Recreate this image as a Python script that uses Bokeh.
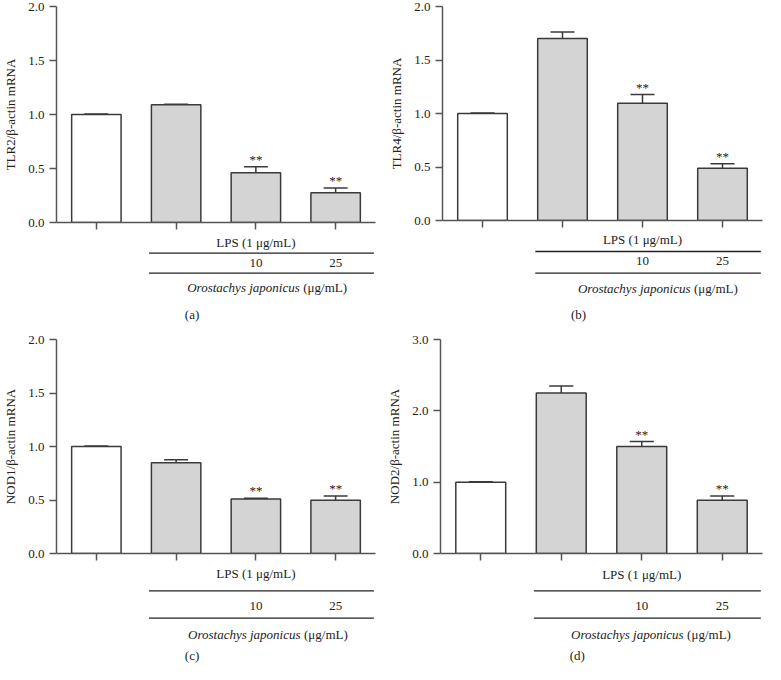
from bokeh.plotting import figure
from bokeh.models import Range1d, FixedTicker, PrintfTickFormatter, ColumnDataSource
from bokeh.layouts import column, row
from bokeh.embed import file_html
from bokeh.resources import INLINE
from bokeh.core.properties import value

# ---------------- data ----------------
groups = [1, 2, 3, 4]
signif = ["", "", "**", "**"]
fills = ["#ffffff", "#d4d4d4", "#d4d4d4", "#d4d4d4"]

tlr2 = [1.00, 1.09, 0.46, 0.275]
tlr2_err = [0.005, 0.006, 0.056, 0.044]
tlr4 = [1.00, 1.70, 1.096, 0.488]
tlr4_err = [0.005, 0.062, 0.081, 0.043]
nod1 = [1.00, 0.849, 0.510, 0.498]
nod1_err = [0.005, 0.028, 0.006, 0.040]
nod2 = [1.00, 2.25, 1.50, 0.747]
nod2_err = [0.005, 0.098, 0.070, 0.060]

yticks_2 = [0.0, 0.5, 1.0, 1.5, 2.0]
yticks_3 = [0.0, 1.0, 2.0, 3.0]

lps_x = [3]
lps_label = ["LPS (1 \u03bcg/mL)"]
conc_x = [3, 4]
conc_labels = ["10", "25"]
oj_italic = ["Orostachys japonicus"]
oj_unit = ["(\u03bcg/mL)"]

FONT = "Liberation Serif"
TXT = "#222222"
AX = "#555555"
EDGE = "#3a3a3a"


def make_panel(tag, ylabel, vals, errs, ymax, yticks, W, H, left, top, right, frame_h, off):
    b = 12
    Hc = top + frame_h + b
    Ha = H - Hc
    xr = Range1d(0.5, 4.5)

    # ---- chart ----
    p = figure(width=W, height=Hc, x_range=xr, y_range=Range1d(0, ymax),
               output_backend="svg", toolbar_location=None, tools="")
    p.min_border_left = left
    p.min_border_top = top
    p.min_border_right = right
    p.min_border_bottom = b
    p.outline_line_color = None
    p.xgrid.grid_line_color = None
    p.ygrid.grid_line_color = None

    for ax in (p.xaxis[0], p.yaxis[0]):
        ax.axis_line_color = AX
        ax.axis_line_width = 1.5
        ax.major_tick_line_color = AX
        ax.major_tick_line_width = 1.5
        ax.major_tick_out = 7
        ax.major_tick_in = 0
        ax.major_label_text_font = FONT
        ax.major_label_text_font_size = "13px"
        ax.major_label_text_color = TXT

    p.xaxis.ticker = FixedTicker(ticks=[], minor_ticks=groups)
    p.xaxis.minor_tick_line_color = AX
    p.xaxis.minor_tick_line_width = 1.5
    p.xaxis.minor_tick_out = 7
    p.xaxis.minor_tick_in = 0
    p.xaxis.major_label_standoff = 0

    p.yaxis.minor_tick_line_color = None
    p.yaxis.ticker = FixedTicker(ticks=yticks)
    p.yaxis.formatter = PrintfTickFormatter(format="%.1f")
    p.yaxis.major_label_standoff = 5
    p.yaxis.axis_label = ylabel
    p.yaxis.axis_label_text_font = FONT
    p.yaxis.axis_label_text_font_size = "13px"
    p.yaxis.axis_label_text_font_style = "normal"
    p.yaxis.axis_label_text_color = TXT
    p.yaxis.axis_label_standoff = 7

    tops = [v + e for v, e in zip(vals, errs)]
    src = ColumnDataSource(dict(x=groups, top=vals, fill=fills, etop=tops,
                                cl=[g - 0.15 for g in groups], cr=[g + 0.15 for g in groups],
                                star=signif))
    p.vbar(x="x", top="top", width=0.62, bottom=0, source=src, fill_color="fill",
           line_color=EDGE, line_width=1.5)
    p.segment(x0="x", y0="top", x1="x", y1="etop", source=src, line_color=EDGE, line_width=1.5)
    p.segment(x0="cl", y0="etop", x1="cr", y1="etop", source=src, line_color=EDGE, line_width=1.5)
    p.text(x="x", y="etop", text="star", source=src, text_align="center", text_baseline="bottom",
           text_font=value(FONT), text_font_size="13px", text_color=TXT)

    # ---- treatment annotation strip (same x scale) ----
    a = figure(width=W, height=Ha, x_range=xr, y_range=Range1d(-(b + Ha), -b),
               output_backend="svg", toolbar_location=None, tools="",
               x_axis_type=None, y_axis_type=None)
    a.min_border_left = left
    a.min_border_right = right
    a.min_border_top = 0
    a.min_border_bottom = 0
    a.outline_line_color = None
    a.grid.visible = False

    def txt(xs, dy, texts, align="center", style="normal", xo=0):
        a.text(x=xs, y=[-dy] * len(xs), text=texts, text_align=align, text_baseline="middle",
               text_font=value(FONT), text_font_size="13px", text_font_style=style,
               text_color=TXT, x_offset=xo)

    txt(lps_x, off["lps"], lps_label)
    txt(conc_x, off["conc"], conc_labels)
    txt([off["split"]], off["oj"], oj_italic, align="right", style="italic")
    txt([off["split"]], off["oj"], oj_unit, align="left", xo=3.5)
    txt([2.2], off["tag"], [tag])
    ly = [-off["l1"], -off["l2"]]
    a.segment(x0=[1.66, 1.66], x1=[4.48, 4.48], y0=ly, y1=ly, line_color="#222222", line_width=1.3)

    return column(p, a)


pa = make_panel("(a)", "TLR2/\u03b2-actin mRNA", tlr2, tlr2_err, 2.0, yticks_2,
                382, 332, 52, 6, 7, 216,
                dict(lps=20, l1=30.7, conc=40.7, l2=50.7, oj=65, tag=91.7, split=3.55))
pb = make_panel("(b)", "TLR4/\u03b2-actin mRNA", tlr4, tlr4_err, 2.0, yticks_2,
                383, 332, 60, 6, 3, 214,
                dict(lps=19.4, l1=31, conc=40.7, l2=52.7, oj=67.7, tag=94.4, split=3.6))
pc = make_panel("(c)", "NOD1/\u03b2-actin mRNA", nod1, nod1_err, 2.0, yticks_2,
                382, 332, 53, 7, 7, 214,
                dict(lps=19.7, l1=37.3, conc=52.3, l2=64.7, oj=80.7, tag=102.3, split=3.56))
pd = make_panel("(d)", "NOD2/\u03b2-actin mRNA", nod2, nod2_err, 3.0, yticks_3,
                383, 332, 58, 7, 3, 214,
                dict(lps=21, l1=37.3, conc=52.3, l2=64.7, oj=80.7, tag=102.3, split=3.52))

layout = column(row(pa, pb), row(pc, pd))
open("out.html", "w").write(file_html(layout, INLINE, "chart"))
